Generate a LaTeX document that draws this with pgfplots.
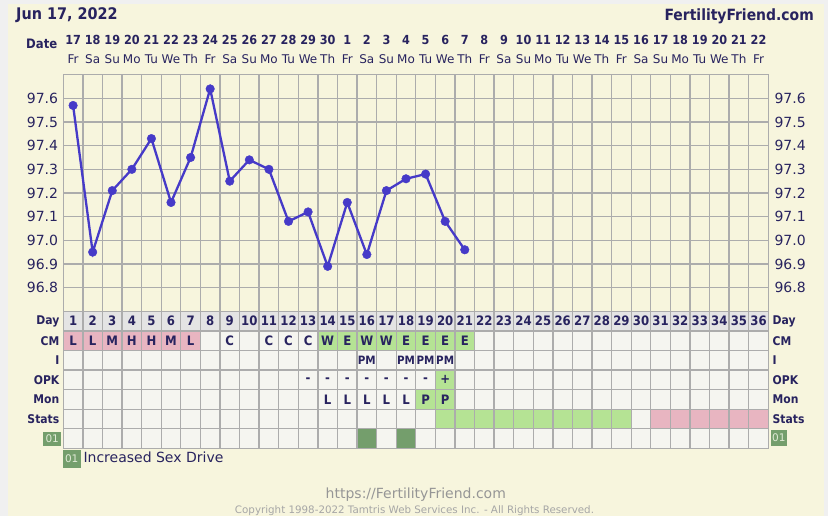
\documentclass[border=0pt]{standalone}
\usepackage{pgfplots}
\pgfplotsset{compat=1.18}
\usepackage{fontspec}
\setmainfont{DejaVu Sans}
\newfontfamily\condb{DejaVuSansCondensed-Bold.ttf}
\definecolor{outer}{RGB}{240,240,240}
\definecolor{cream}{RGB}{247,245,221}
\definecolor{cellbg}{RGB}{245,245,240}
\definecolor{daybg}{RGB}{228,228,228}
\definecolor{pinkc}{RGB}{232,181,193}
\definecolor{greenc}{RGB}{181,227,148}
\definecolor{dgreen}{RGB}{116,158,108}
\definecolor{navy}{RGB}{40,35,95}
\definecolor{linec}{RGB}{70,58,200}
\definecolor{gridc}{RGB}{172,172,172}
\definecolor{footc}{RGB}{150,150,150}
\definecolor{badget}{RGB}{225,235,215}
\newcommand\fdate{\condb\fontsize{12.5}{14}\selectfont}
\newcommand\fwk{\fontsize{12}{14}\selectfont}
\newcommand\ftick{\fontsize{14}{16}\selectfont}
\newcommand\frow{\condb\fontsize{12}{14}\selectfont}
\newcommand\fcell{\condb\fontsize{13}{15}\selectfont}
\newcommand\fpm{\condb\fontsize{11.5}{13}\selectfont}
\newcommand\rowtext[3][\fcell]{\foreach \c/\t in {#3}{\edef\tmp{\noexpand\node[text=navy,inner sep=0pt,font=\noexpand#1] at (axis cs:\c,#2) {\t};}\tmp}}
\newcommand\cellfill[5]{\addplot[draw=none,fill=#1,mark=none,forget plot] coordinates {(#2,#4) (#3,#4) (#3,#5) (#2,#5)} --cycle;}
\begin{document}
\begin{tikzpicture}
\fill[outer] (0pt,0pt) rectangle (828pt,516pt);
\useasboundingbox (0pt,0pt) rectangle (828pt,516pt);
\fill[cream] (8pt,0pt) rectangle (824pt,512pt);
% temperature axis
\begin{axis}[at={(63.3pt,204.7pt)}, anchor=south west, scale only axis,
  width=705pt, height=236.6pt,
  xmin=0.5, xmax=36.5, ymin=96.7, ymax=97.7,
  axis line style={draw=gridc, line width=1.3pt},
  major tick length=0pt, minor tick length=0pt,
  xtick={1,...,36},
  xticklabels={17,18,19,20,21,22,23,24,25,26,27,28,29,30,1,2,3,4,5,6,7,8,9,10,11,12,13,14,15,16,17,18,19,20,21,22},
  xticklabel pos=upper,
  xticklabel style={font=\fdate, text=navy, anchor=base, yshift=30pt, inner sep=0pt},
  minor xtick={0.5,1.5,...,36.5},
  xminorgrids=true, xmajorgrids=false,
  ytick={96.8,96.9,97.0,97.1,97.2,97.3,97.4,97.5,97.6},
  yticklabels={96.8,96.9,97.0,97.1,97.2,97.3,97.4,97.5,97.6},
  yticklabel style={font=\ftick, text=navy, anchor=east, inner sep=0pt, xshift=-5pt},
  ymajorgrids=true,
  grid style={draw=gridc, line width=1.3pt},
  minor grid style={draw=gridc, line width=1.3pt},
  clip=false]
\addplot[color=linec, line width=2.3pt, mark=*, mark size=4.3pt,
  mark options={fill=linec, draw=linec, line width=0.4pt}] coordinates {
  (1,97.57) (2,96.95) (3,97.21) (4,97.30) (5,97.43) (6,97.16) (7,97.35)
  (8,97.64) (9,97.25) (10,97.34) (11,97.30) (12,97.08) (13,97.12) (14,96.89)
  (15,97.16) (16,96.94) (17,97.21) (18,97.26) (19,97.28) (20,97.08) (21,96.96)};
\end{axis}
% duplicate axis for weekday labels and right tick labels
\begin{axis}[at={(63.3pt,204.7pt)}, anchor=south west, scale only axis,
  width=705pt, height=236.6pt,
  xmin=0.5, xmax=36.5, ymin=96.7, ymax=97.7,
  axis line style={draw=none},
  major tick length=0pt,
  xtick={1,...,36},
  xticklabels={Fr,Sa,Su,Mo,Tu,We,Th,Fr,Sa,Su,Mo,Tu,We,Th,Fr,Sa,Su,Mo,Tu,We,Th,Fr,Sa,Su,Mo,Tu,We,Th,Fr,Sa,Su,Mo,Tu,We,Th,Fr},
  xticklabel pos=upper,
  xticklabel style={font=\fwk, text=navy, anchor=base, yshift=11pt, inner sep=0pt},
  ytick={96.8,96.9,97.0,97.1,97.2,97.3,97.4,97.5,97.6},
  yticklabels={96.8,96.9,97.0,97.1,97.2,97.3,97.4,97.5,97.6},
  yticklabel pos=upper,
  yticklabel style={font=\ftick, text=navy, anchor=west, inner sep=0pt, xshift=6pt}]
\end{axis}
% table axis
\begin{axis}[at={(63.3pt,67.7pt)}, anchor=south west, scale only axis,
  width=705pt, height=137pt,
  xmin=0.5, xmax=36.5, ymin=0, ymax=7, y dir=reverse,
  axis on top,
  axis line style={draw=gridc, line width=1.3pt},
  major tick length=0pt,
  xtick={0.5,1.5,...,36.5}, ytick={0,...,7},
  xticklabels={}, yticklabels={},
  grid=major,
  grid style={draw=gridc, line width=1.3pt},
  clip=false]
\cellfill{cellbg}{0.5}{36.5}{0}{7}
\cellfill{daybg}{0.5}{36.5}{0}{1}
\cellfill{pinkc}{0.5}{7.5}{1}{2}
\cellfill{greenc}{13.5}{21.5}{1}{2}
\cellfill{greenc}{19.5}{20.5}{3}{4}
\cellfill{greenc}{18.5}{20.5}{4}{5}
\cellfill{greenc}{19.5}{29.5}{5}{6}
\cellfill{pinkc}{30.5}{36.5}{5}{6}
\cellfill{dgreen}{15.5}{16.5}{6}{7}
\cellfill{dgreen}{17.5}{18.5}{6}{7}
\pgfplotsinvokeforeach{1,...,36}{\node[text=navy,inner sep=0pt,font=\fcell] at (axis cs:#1,0.5) {#1};}
\rowtext{1.5}{1/L,2/L,3/M,4/H,5/H,6/M,7/L,9/C,11/C,12/C,13/C,14/W,15/E,16/W,17/W,18/E,19/E,20/E,21/E}
\rowtext[\fpm]{2.5}{16/PM,18/PM,19/PM,20/PM}
\rowtext{3.5}{13/-,14/-,15/-,16/-,17/-,18/-,19/-,20/+}
\rowtext{4.5}{14/L,15/L,16/L,17/L,18/L,19/P,20/P}
\end{axis}
% row labels
\foreach \r/\t in {0/Day,1/CM,2/I,3/OPK,4/Mon,5/Stats}{
  \node[anchor=east, text=navy, inner sep=0pt, font=\frow] at (59.5pt,{(204.7-19.571*(\r+0.5))*1pt}) {\t};
  \node[anchor=west, text=navy, inner sep=0pt, font=\frow] at (772.5pt,{(204.7-19.571*(\r+0.5))*1pt}) {\t};
}
% badges
\node[fill=dgreen, text=badget, minimum width=17.7pt, minimum height=14.5pt, inner sep=0pt, font=\fontsize{10.5}{12}\selectfont] at (52.2pt,77.2pt) {01};
\node[fill=dgreen, text=badget, minimum width=15.7pt, minimum height=16pt, inner sep=0pt, font=\fontsize{10.5}{12}\selectfont] at (778.8pt,78pt) {01};
\node[fill=dgreen, text=badget, minimum width=18pt, minimum height=17.7pt, inner sep=0pt, font=\fontsize{10.5}{12}\selectfont] at (71.7pt,57.2pt) {01};
\node[anchor=base west, text=navy, inner sep=0pt, font=\fontsize{14}{16}\selectfont] at (83.3pt,53.7pt) {Increased Sex Drive};
% titles
\node[anchor=base west, text=navy, inner sep=0pt, font=\condb\fontsize{16}{18}\selectfont] at (16pt,496pt) {Jun 17, 2022};
\node[anchor=base east, text=navy, inner sep=0pt, font=\condb\fontsize{15.5}{18}\selectfont] at (814pt,495.3pt) {FertilityFriend.com};
\node[anchor=base east, text=navy, inner sep=0pt, font=\condb\fontsize{13}{15}\selectfont] at (57.5pt,467.5pt) {Date};
% footer
\node[anchor=base, text=footc, inner sep=0pt, font=\fontsize{14}{16}\selectfont] at (415.8pt,17.7pt) {https://FertilityFriend.com};
\node[anchor=base, text=footc!85, inner sep=0pt, font=\fontsize{10.3}{12}\selectfont] at (414.5pt,2.7pt) {Copyright 1998-2022 Tamtris Web Services Inc. - All Rights Reserved.};
\end{tikzpicture}
\end{document}
